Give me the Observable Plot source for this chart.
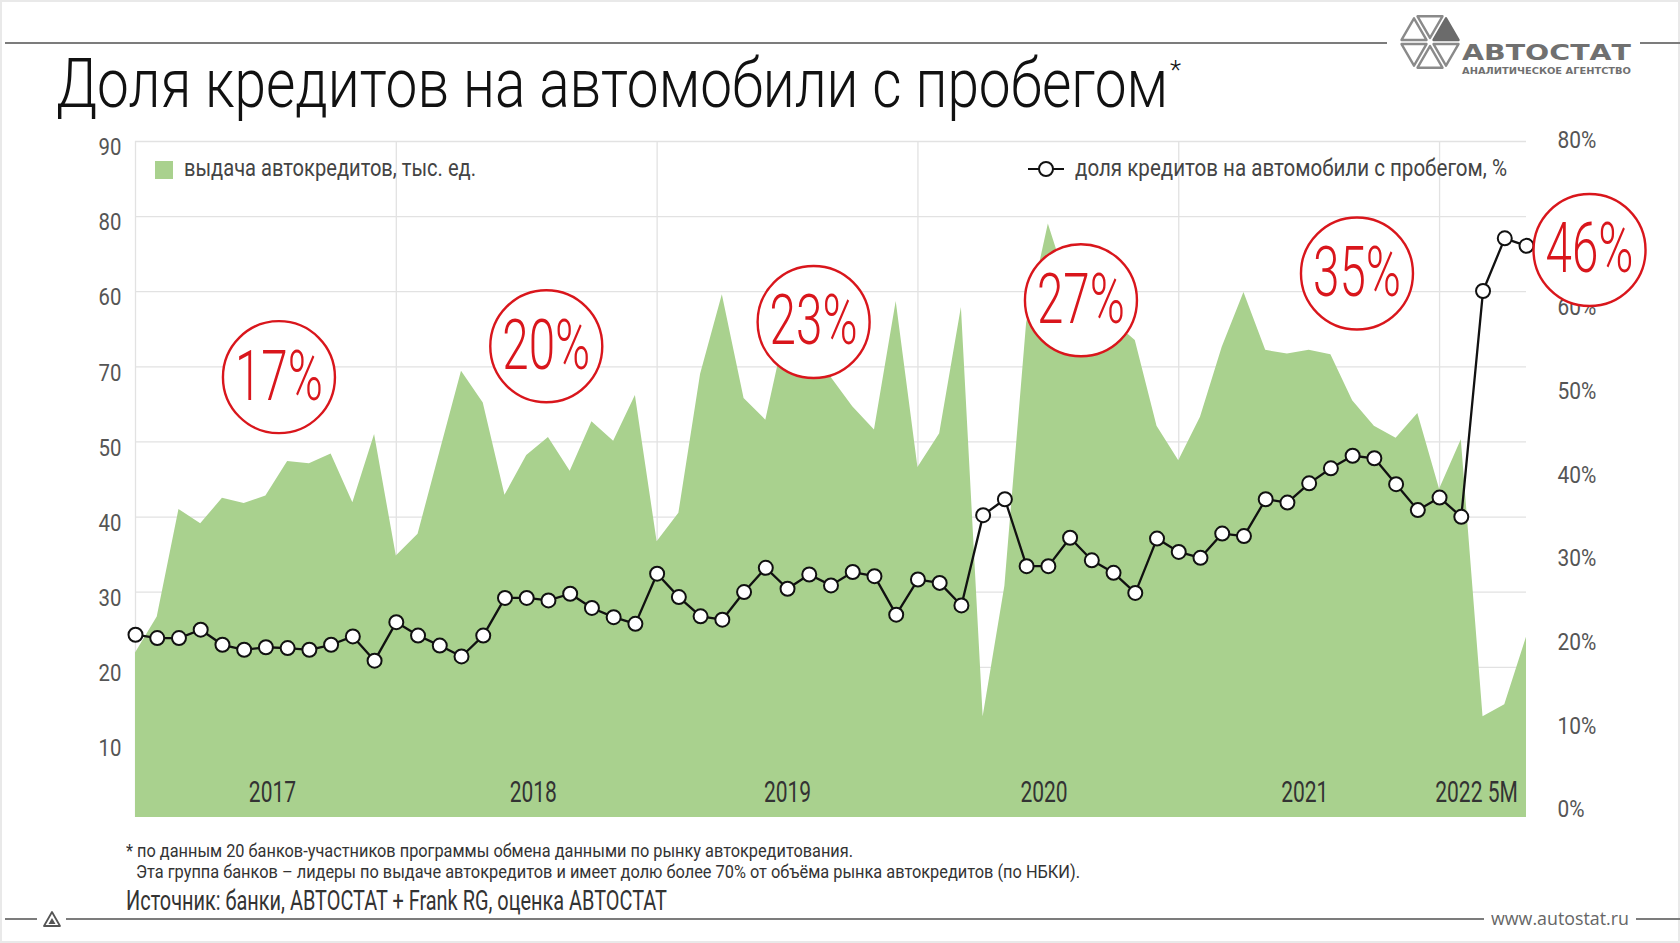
<!DOCTYPE html>
<html><head><meta charset="utf-8">
<script src="https://cdn.jsdelivr.net/npm/d3@7"></script>
<script src="https://cdn.jsdelivr.net/npm/@observablehq/plot@0.6"></script>
<style>
html,body{margin:0;padding:0;background:#fff;overflow:hidden;}
#page{position:relative;width:1680px;height:943px;overflow:hidden;background:#fff;font-family:Roboto,sans-serif;}
.abs{position:absolute;white-space:nowrap;line-height:1;transform-origin:0 0;}
.hl{position:absolute;height:2px;background:#7c7c7c;}
.chart{position:absolute;left:0;top:128px;}
#border{position:absolute;left:0;top:0;width:1676px;height:939px;border:2px solid #e9e9e9;pointer-events:none;}
</style></head>
<body><div id="page">
<div id="border"></div>
<div class="hl" style="left:5px;top:42px;width:1382px;"></div>
<div class="hl" style="left:1640px;top:42px;width:40px;"></div>
<svg class="abs" style="left:1392px;top:8px" width="250" height="72" viewBox="0 0 250 72" id="logo"></svg>
<div class="abs" id="title" style="left:56px;top:50px;font-size:68px;font-weight:300;color:#111;">Доля кредитов на автомобили с пробегом</div>
<div class="abs" id="star" style="top:57px;font-size:26px;font-weight:300;color:#111;">*</div>
<div id="c1" class="chart"></div>
<div id="c2" class="chart"></div>
<div class="abs" style="left:155px;top:161px;width:18px;height:18px;background:#a9d18e;"></div>
<div class="abs" id="leg1" style="left:184px;top:157px;font-size:23px;color:#444;">выдача автокредитов, тыс. ед.</div>
<svg class="abs" style="left:1027px;top:159px" width="40" height="20"><line x1="1" y1="10" x2="37" y2="10" stroke="#111" stroke-width="2.2"/><circle cx="19" cy="10" r="7" fill="#fff" stroke="#111" stroke-width="2"/></svg>
<div class="abs" id="leg2" style="left:1075px;top:157px;font-size:23px;color:#444;">доля кредитов на автомобили с пробегом, %</div>
<div class="abs" id="fn1" style="left:126px;top:842px;font-size:18px;color:#333;">* по данным 20 банков-участников программы обмена данными по рынку автокредитования.</div>
<div class="abs" id="fn2" style="left:136px;top:863px;font-size:18px;color:#333;">Эта группа банков – лидеры по выдаче автокредитов и имеет долю более 70% от объёма рынка автокредитов (по НБКИ).</div>
<div class="abs" id="src" style="left:126px;top:887px;font-size:28px;color:#333;">Источник: банки, АВТОСТАТ + Frank RG, оценка АВТОСТАТ</div>
<div class="hl" style="left:5px;top:918px;width:32px;"></div>
<svg class="abs" style="left:42px;top:910px" width="20" height="18"><path d="M10 2 L18 16 L2 16 Z" fill="none" stroke="#555" stroke-width="1.8" stroke-linejoin="round"/><path d="M10 8 L13.5 14 L6.5 14 Z" fill="#555"/></svg>
<div class="hl" style="left:66px;top:918px;width:1418px;"></div>
<div class="abs" id="www" style="left:1491px;top:909px;font-size:19px;color:#666;font-family:'Open Sans',sans-serif;">www.autostat.ru</div>
<div class="hl" style="left:1636px;top:918px;width:44px;"></div>
</div>
<script>
// ---- data ----
const loans = [21.9,26.7,41.0,39.1,42.5,41.8,42.8,47.4,47.1,48.4,41.9,51.0,
  34.8,37.7,48.6,59.4,55.2,42.9,48.2,50.6,46.1,52.7,50.1,56.2,
  36.7,40.5,59.0,69.6,55.8,52.9,66.0,62.0,58.6,54.7,51.6,68.7,
  46.6,51.1,67.9,13.4,30.8,65.8,79.0,70.0,68.0,66.0,63.5,52.1,
  47.5,53.3,62.6,69.9,62.2,61.7,62.2,61.6,55.5,52.1,50.5,53.8,
  43.7,50.3,13.4,15.0,24.0];
const share = [20.9,20.5,20.5,21.5,19.7,19.1,19.4,19.3,19.1,19.7,20.7,17.8,
  22.4,20.8,19.6,18.3,20.8,25.3,25.3,25.0,25.8,24.1,23.0,22.2,
  28.2,25.4,23.1,22.7,26.0,28.9,26.4,28.1,26.8,28.4,27.9,23.3,
  27.5,27.1,24.4,35.2,37.1,29.1,29.1,32.5,29.8,28.3,25.9,32.4,
  30.8,30.1,33.0,32.7,37.1,36.7,39.0,40.8,42.3,42.0,38.9,35.8,
  37.3,35.0,62.0,68.3,67.4];
const leftTicks = [10,20,30,40,50,60,70,80,90];
const leftTickLabels = ["10","20","30","40","50","70","60","80","90"];
// the 70% label is hidden behind the 46% bubble in the reference
const rightTicks = [0,10,20,30,40,50,60,80];
const rightTickLabels = ["0%","10%","20%","30%","40%","50%","60%","80%"];
const yearLabels = ["2017","2018","2019","2020","2021","2022 5M"];
const yearLabelAt = [6.3,18.3,30.0,41.8,53.8,61.7];
const yearStarts = [0,12,24,36,48,60];
const bubbleLabels = ["17%","20%","23%","27%","35%","46%"];
const bubbleAt = [6.6,18.9,31.2,43.5,56.2,66.9];
const bubbleLevel = [51.7,55.4,58.3,60.9,64.1,66.9];

const W = 1680, H = 700;
const GREEN = "#a9d18e", RED = "#d9161c";

const p1 = Plot.plot({
  width: W, height: H, marginLeft: 135, marginRight: 154, marginTop: 13, marginBottom: 11,
  x: {domain: [0, 64], axis: null},
  y: {domain: [0, 90], axis: null},
  style: {fontFamily: "Roboto", background: "transparent", overflow: "visible"},
  marks: [
    Plot.gridY(leftTicks, {stroke: "#e2e2e2", strokeOpacity: 1, strokeWidth: 1.3}),
    Plot.gridX(yearStarts, {stroke: "#e2e2e2", strokeOpacity: 1, strokeWidth: 1.3}),
    Plot.areaY(loans, {x: (d, i) => i, y: d => d, fill: GREEN}),
    Plot.axisY(leftTicks, {tickSize: 0, tickPadding: 14, label: null, dy: 6,
      tickFormat: d => leftTickLabels[leftTicks.indexOf(d)], fontSize: 24, fill: "#555"}),
    Plot.text(yearLabels, {x: (d, i) => yearLabelAt[i], y: 3.3, text: d => d,
      fontSize: 30, fill: "#333"})
  ]
});

const p2 = Plot.plot({
  width: W, height: H, marginLeft: 135, marginRight: 154, marginTop: 12, marginBottom: 19,
  x: {domain: [0, 64], axis: null},
  y: {domain: [0, 80], axis: null},
  style: {fontFamily: "Roboto", background: "transparent", overflow: "visible"},
  marks: [
    Plot.axisY(rightTicks, {anchor: "right", tickSize: 0, tickPadding: 31, label: null,
      tickFormat: d => rightTickLabels[rightTicks.indexOf(d)], fontSize: 24, fill: "#555"}),
    Plot.line(share, {x: (d, i) => i, y: d => d, stroke: "#111", strokeWidth: 2.3}),
    Plot.dot(share, {x: (d, i) => i, y: d => d, r: 7, fill: "#fff", stroke: "#111", strokeWidth: 2}),
    Plot.dot(bubbleLabels, {x: (d, i) => bubbleAt[i], y: (d, i) => bubbleLevel[i], r: 56,
      fill: "#fff", stroke: RED, strokeWidth: 2.4}),
    Plot.text(bubbleLabels, {x: (d, i) => bubbleAt[i], y: (d, i) => bubbleLevel[i], text: d => d,
      fontSize: 70, fontWeight: 300, fill: RED, dy: 0})
  ]
});

document.getElementById("c1").appendChild(p1);
document.getElementById("c2").appendChild(p2);

function condense(nodes, f) {
  nodes.forEach(t => {
    const w = t.getComputedTextLength();
    if (w > 0) {
      t.setAttribute("textLength", (w * f).toFixed(1));
      t.setAttribute("lengthAdjust", "spacingAndGlyphs");
    }
  });
}
condense(p1.querySelectorAll('g[font-size="24"] text'), 0.85);
condense(p1.querySelectorAll('g[font-size="30"] text'), 0.7);
condense(p2.querySelectorAll('g[font-size="24"] text'), 0.87);
condense(p2.querySelectorAll('g[font-size="70"] text'), 0.68);

function fit(id, target) {
  const el = document.getElementById(id);
  const w = el.getBoundingClientRect().width;
  el.style.transform = `scaleX(${target / w})`;
}
fit("title", 1112);
document.getElementById("star").style.left = (56 + 1112 + 2) + "px";
fit("leg1", 292);
fit("leg2", 432);
fit("fn1", 727);
fit("fn2", 944);
fit("src", 541);
fit("www", 138);

// logo
(function () {
  const svg = d3.select("#logo");
  const cx = 38, cy = 34, R = 32, h = R * Math.sqrt(3) / 2;
  const P = {
    c: [cx, cy], l: [cx - R, cy], r: [cx + R, cy],
    tl: [cx - R / 2, cy - h], tr: [cx + R / 2, cy - h],
    bl: [cx - R / 2, cy + h], br: [cx + R / 2, cy + h]
  };
  const tris = [
    [P.l, P.c, P.tl, false], [P.tl, P.tr, P.c, false], [P.c, P.r, P.tr, true],
    [P.l, P.c, P.bl, false], [P.bl, P.br, P.c, false], [P.c, P.r, P.br, false]
  ];
  tris.forEach(([a, b, c, filled]) => {
    const gx = (a[0] + b[0] + c[0]) / 3, gy = (a[1] + b[1] + c[1]) / 3, k = 0.78;
    const pts = [a, b, c].map(p => [gx + (p[0] - gx) * k, gy + (p[1] - gy) * k]);
    svg.append("path").attr("d", "M" + pts.map(p => p.join(",")).join("L") + "Z")
      .attr("fill", filled ? "#6b6b6b" : "#fff").attr("stroke", filled ? "#6b6b6b" : "#8a8a8a")
      .attr("stroke-width", 2.4).attr("stroke-linejoin", "round");
  });
  svg.append("text").attr("x", 70).attr("y", 52).attr("font-family", "DejaVu Sans")
    .attr("font-weight", "bold").attr("font-size", 22).attr("fill", "#707070")
    .attr("textLength", 169).attr("lengthAdjust", "spacingAndGlyphs").text("АВТОСТАТ");
  svg.append("text").attr("x", 70).attr("y", 66).attr("font-family", "DejaVu Sans")
    .attr("font-weight", "bold").attr("font-size", 9).attr("fill", "#707070")
    .attr("textLength", 169).attr("lengthAdjust", "spacingAndGlyphs").text("АНАЛИТИЧЕСКОЕ АГЕНТСТВО");
})();
</script>
</body></html>
